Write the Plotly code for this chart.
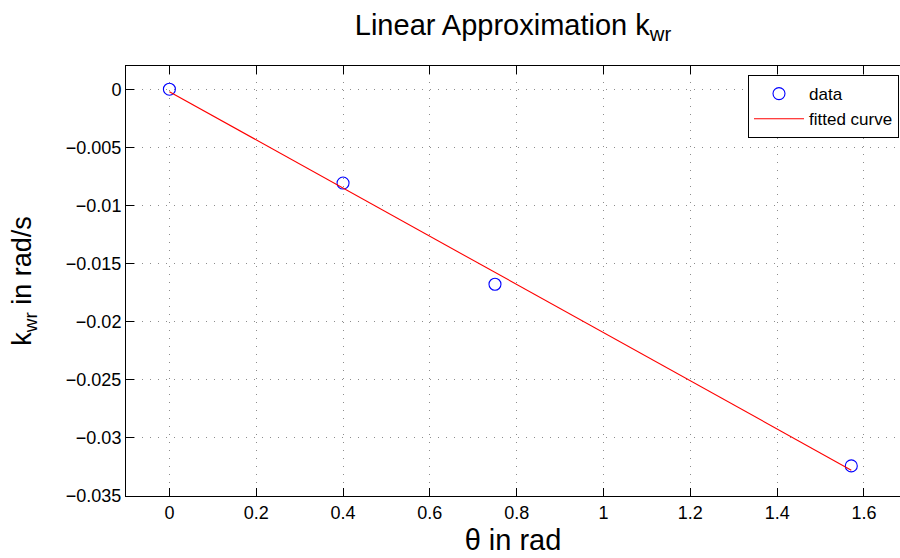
import plotly.graph_objects as go

# data
theta = [0.0, 0.4, 0.75, 1.5708]
kwr = [0.0, -0.00807, -0.01678, -0.03241]

fit_x = [0.0, 1.5708]
fit_y = [-0.00021, -0.03278]

xtick_vals = [0, 0.2, 0.4, 0.6, 0.8, 1.0, 1.2, 1.4, 1.6]
xtick_text = ["0", "0.2", "0.4", "0.6", "0.8", "1", "1.2", "1.4", "1.6"]
ytick_vals = [0, -0.005, -0.01, -0.015, -0.02, -0.025, -0.03, -0.035]
ytick_text = ["0", "\u22120.005", "\u22120.01", "\u22120.015", "\u22120.02",
              "\u22120.025", "\u22120.03", "\u22120.035"]

FONT = "Liberation Sans, Arial, Helvetica, sans-serif"

fig = go.Figure()
fig.add_trace(go.Scatter(
    x=theta, y=kwr, mode="markers", name="data",
    marker=dict(symbol="circle-open", size=12, color="#0000ff",
                line=dict(width=1.1, color="#0000ff")),
))
fig.add_trace(go.Scatter(
    x=fit_x, y=fit_y, mode="lines", name="fitted curve",
    line=dict(color="#ff0000", width=1.1),
))

fig.update_layout(
    width=900, height=558,
    margin=dict(l=126, r=0, t=66, b=62),
    paper_bgcolor="white", plot_bgcolor="white",
    font=dict(family=FONT, color="black", size=18),
    title=dict(text="Linear Approximation k<sub>wr</sub>",
               x=0.5, xref="paper", xanchor="center",
               y=1 - 35 / 558, yref="container", yanchor="bottom",
               font=dict(size=29, family=FONT, color="black")),
    showlegend=True,
    legend=dict(x=0.9987, xanchor="right", y=0.979, yanchor="top",
                bgcolor="white", bordercolor="black", borderwidth=1,
                font=dict(size=17, family=FONT, color="black"),
                tracegroupgap=0, itemwidth=50),
)

fig.update_xaxes(
    range=[-0.1, 1.683], tickvals=xtick_vals, ticktext=xtick_text,
    ticks="inside", ticklen=8, tickcolor="black", tickwidth=1,
    showline=True, linecolor="black", linewidth=1, mirror="ticks",
    showgrid=True, gridcolor="#8c8c8c", gridwidth=1, griddash="1px,7px",
    zeroline=False,
    tickfont=dict(size=18, family=FONT, color="black"),
    title=dict(text="\u03b8 in rad", font=dict(size=29, family=FONT, color="black"),
               standoff=8),
)
fig.update_yaxes(
    range=[-0.035, 0.002], tickvals=ytick_vals, ticktext=ytick_text,
    ticks="inside", ticklen=8, tickcolor="black", tickwidth=1,
    showline=True, linecolor="black", linewidth=1, mirror=False,
    showgrid=True, gridcolor="#8c8c8c", gridwidth=1, griddash="1px,7px",
    zeroline=False,
    tickfont=dict(size=18, family=FONT, color="black"),
    title=dict(text="k<sub>wr</sub> in rad/s",
               font=dict(size=27, family=FONT, color="black"), standoff=26),
)

fig.write_html("out.html")
